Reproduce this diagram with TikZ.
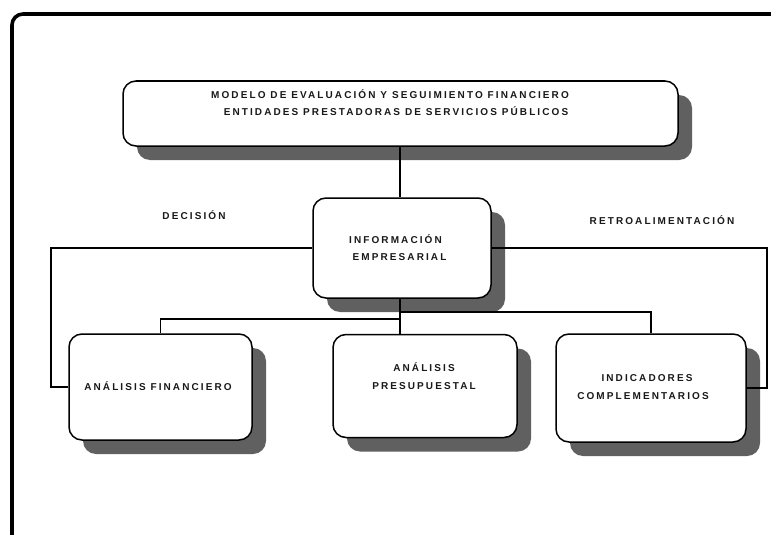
\documentclass[tikz,border=0pt]{standalone}
\usepackage{fontspec}
\setmainfont{Liberation Sans}
\newfontfamily\lblfont[LetterSpace=21]{Liberation Sans}
\usetikzlibrary{shadows}
\definecolor{shadowgray}{RGB}{96,96,96}
\definecolor{inkcol}{RGB}{25,25,25}
\tikzset{
  x=1pt, y=-1pt,
  boxnode/.style={draw=black, line width=1.5pt, fill=white, rounded corners=13pt,
    inner sep=0pt,
    drop shadow={shadow xshift=14pt, shadow yshift=-14pt, fill=shadowgray, opacity=1}},
  txt/.style={inner sep=0pt, text height=7pt, text depth=0pt, text=inkcol,
    font=\lblfont\bfseries\fontsize{10}{12}\selectfont},
  conn/.style={draw=black, line width=1.4pt},
  framestyle/.style={draw=black, line width=3.6pt, rounded corners=11pt}
}
\begin{document}
\begin{tikzpicture}
\useasboundingbox (0,0) rectangle (771,535);
\clip (0,0) rectangle (771,535);
\fill[white] (0,0) rectangle (771,535);
% outer frame
\coordinate (fbl) at (12,545);
\coordinate (ftr) at (790,14);
\draw[framestyle] (fbl) |- (ftr);
% boxes
\node[boxnode, minimum width=555pt, minimum height=65pt] (top) at (400.5,113.5) {};
\node[boxnode, minimum width=178pt, minimum height=100pt] (info) at (402,248) {};
\node[boxnode, minimum width=183pt, minimum height=106pt] (af) at (160.5,387) {};
\node[boxnode, minimum width=184pt, minimum height=103pt] (pp) at (425,386) {};
\node[boxnode, minimum width=190pt, minimum height=108pt] (ind) at (651,388) {};
% helper coordinates
\coordinate (lx) at (51,248);
\coordinate (rx) at (767,248);
\coordinate (cx) at (400,0);
\coordinate (lb) at (400,319);
\coordinate (rb) at (400,312);
% connectors
\draw[conn] (top.south -| cx) -- (info.north -| cx);
\draw[conn] (info.west) -- (lx) |- (af.west);
\draw[conn] (info.east) -- (rx) |- (ind.east);
\draw[conn] (info.south -| cx) -- (pp.north -| cx);
\draw[conn] (lb) -| (af.north);
\draw[conn] (rb) -| (ind.north);
% texts
\node[txt] (t1) at (390,95) {MODELO DE EVALUACIÓN Y SEGUIMIENTO FINANCIERO};
\node[txt] (t2) at (396,112) {ENTIDADES PRESTADORAS DE SERVICIOS PÚBLICOS};
\node[txt] (dec) at (194,216) {DECISIÓN};
\node[txt] (ret) at (662,221) {RETROALIMENTACIÓN};
\node[txt] (i1) at (395.5,240) {INFORMACIÓN};
\node[txt] (i2) at (399.5,257) {EMPRESARIAL};
\node[txt] (a1) at (158,387) {ANÁLISIS FINANCIERO};
\node[txt] (p1) at (424,368) {ANÁLISIS};
\node[txt] (p2) at (424,386) {PRESUPUESTAL};
\node[txt] (n1) at (647,378) {INDICADORES};
\node[txt] (n2) at (643,396) {COMPLEMENTARIOS};
\end{tikzpicture}
\end{document}
